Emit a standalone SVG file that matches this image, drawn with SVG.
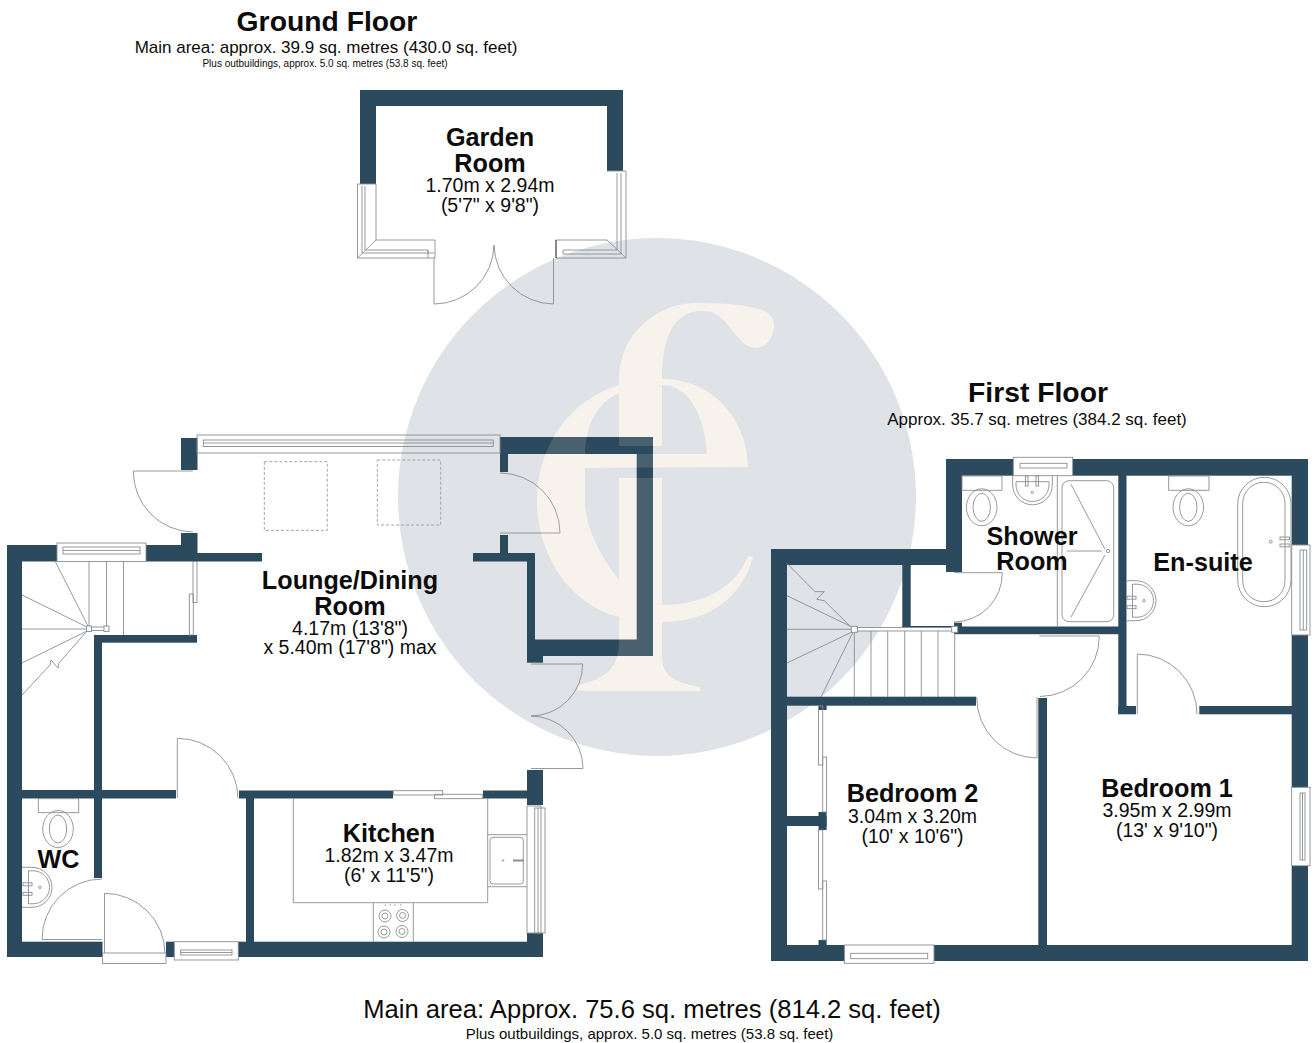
<svg xmlns="http://www.w3.org/2000/svg" width="1314" height="1043" viewBox="0 0 1314 1043">
<style>
.w{fill:#2c4a5e}
.l{fill:none;stroke:#8a8e91;stroke-width:.9}
.lw{fill:#fff;stroke:#8a8e91;stroke-width:.9}
.d{fill:none;stroke:#a0a4a7;stroke-width:1;stroke-dasharray:3 2}
text{font-family:"Liberation Sans",Arial,sans-serif;fill:#0c0c0c;text-anchor:middle}
.h{font-size:28.3px;font-weight:700}
.r{font-size:25.2px;font-weight:700}
.m{font-size:19.5px}
.s{font-size:17px}
.t{font-size:10px}
</style>
<defs>
<g id="mono">
<path d="M619,446V375C621,350 632,330 655,315C668,307 680,303 697,303C720,303 745,304 762,310C770,313 774,319 774,325C774,338 766,348 755,348C745,348 738,337 728,325C720,315 712,311 702,311C688,311 678,318 672,328C665,340 662,358 662,378V446Z"/>
<path d="M619,478V640C619,665 610,678 578,685V691H700V687C672,682 662,675 662,655V478Z"/>
<path fill-rule="evenodd" d="M748,467C748,422 715,379 662,379C645,379 632,381 619,385C570,400 537,445 537,502C537,555 570,605 619,617C632,621 648,622 662,622C710,622 742,597 753,557L748,556C735,590 700,605 662,605C640,605 630,595 619,580C598,553 585,525 585,502V468ZM585,454H707C705,418 690,385 662,385C645,385 630,388 619,393C596,404 586,425 585,454Z"/>
</g>
<g id="wc">
<ellipse cx="0" cy="0" rx="15.3" ry="18.5"/>
<ellipse cx="0" cy="0" rx="8.7" ry="14"/>
</g>
<g id="basin">
<path d="M0,0H10A20,20 0 0 1 10,40H0"/>
<path d="M6.5,3.5H11A16.5,16.5 0 0 1 11,36.5H6.5Z"/>
<rect x="1" y="15.5" width="9" height="3"/>
<rect x="1" y="25" width="9" height="3"/>
<circle cx="18" cy="20" r="1.2"/>
</g>
</defs>

<g id="watermark">
<circle cx="657" cy="497" r="259" fill="#dfe2e6"/>
<use href="#mono" fill="#f7f4f0"/>
</g>

<g id="walls-ground" class="w">
<path id="garden-wall" d="M360,90H623V171H607V106H376V184H360Z"/>
<rect x="7" y="545" width="15" height="412"/>
<rect x="7" y="545" width="50" height="16.5"/>
<rect x="146" y="545" width="51" height="16.5"/>
<rect x="181" y="533" width="16.5" height="28"/>
<rect x="197" y="553" width="65" height="8.5"/>
<rect x="181" y="438" width="16.5" height="32"/>
<rect x="500" y="437" width="153" height="17"/>
<rect x="500" y="437" width="8" height="35"/>
<rect x="500" y="535" width="8" height="18"/>
<rect x="473" y="553" width="62" height="8.5"/>
<rect x="527" y="553" width="8" height="103"/>
<rect x="527" y="639.5" width="126" height="16.5"/>
<rect x="636.7" y="437" width="16.3" height="219"/>
<rect x="527" y="656" width="16" height="6.7"/>
<rect x="527" y="770" width="16" height="35"/>
<rect x="483" y="790.5" width="44" height="8"/>
<rect x="239" y="790.5" width="154" height="8"/>
<rect x="22" y="790" width="154" height="8.5"/>
<rect x="94" y="635" width="8" height="243"/>
<rect x="94" y="635" width="103" height="7.7"/>
<rect x="246" y="798" width="8" height="144"/>
<rect x="7" y="941.7" width="95.5" height="15.3"/>
<rect x="166" y="941.7" width="8.3" height="15.3"/>
<rect x="238" y="941.7" width="289" height="15.3"/>
<rect x="527" y="933" width="16" height="24"/>
</g>

<g id="walls-first" class="w">
<rect x="771" y="549" width="16" height="412"/>
<rect x="771" y="549" width="191" height="16"/>
<rect x="946" y="459" width="16" height="113"/>
<rect x="946" y="459" width="67.3" height="16.7"/>
<rect x="1072.7" y="459" width="235.3" height="16.7"/>
<rect x="1291.7" y="459" width="16.3" height="86"/>
<rect x="1291.7" y="635" width="16.3" height="152.3"/>
<rect x="1291.7" y="866" width="16.3" height="95"/>
<rect x="771" y="945" width="73.4" height="16"/>
<rect x="934" y="945" width="374" height="16"/>
<rect x="902.3" y="565" width="8.4" height="62"/>
<rect x="902.3" y="626" width="52" height="2"/>
<rect x="954" y="622.7" width="8" height="11.3"/>
<rect x="954" y="626.5" width="172" height="7.7"/>
<rect x="1118.3" y="475" width="8.2" height="239"/>
<rect x="1118.3" y="706" width="17.7" height="8.3"/>
<rect x="1199.3" y="706" width="92.7" height="8.3"/>
<rect x="787" y="696.7" width="189" height="9"/>
<rect x="1038.3" y="698" width="8.7" height="247"/>
<rect x="787" y="816" width="39.6" height="10"/>
<rect x="818.5" y="705" width="8.1" height="5"/>
<rect x="818.5" y="812" width="8.1" height="18"/>
<rect x="818.5" y="940" width="8.1" height="5"/>
</g>

<g id="garden-fittings" class="l">
<path d="M357.5,184H376V240H435V258H357.5ZM362,186V253H434M365,186V250H428V258M357.5,258L376,240M428,250V254"/>
<path d="M607,171H626V258H556V240H607M621,173V254H563M617,173V250H563V254M607,240L626,258"/>
<path d="M556,240V258" stroke="#333"/>
<path d="M434,258V304A60,60 0 0 0 494,245"/>
<path d="M553.5,258V304A60,60 0 0 1 494,245"/>
</g>

<g id="lounge-fittings" class="l">
<rect x="197" y="435" width="303" height="18"/>
<rect x="203.3" y="440" width="290" height="6.5"/>
<path d="M203.3,443H493.3"/>
<path d="M193,471H133.3A60.5,60.5 0 0 0 193,532"/>
<path d="M500,473A60,60 0 0 1 560,533H500"/>
<path d="M531,664H582.7A52,52 0 0 1 531,716A52.5,52.5 0 0 1 583,768.5H531"/>
<path d="M177.3,798V738.3A60.5,60.5 0 0 1 238,798"/>
<rect x="193" y="561.5" width="4" height="41"/>
<rect x="189.3" y="594" width="4" height="41"/>
<rect class="d" x="264.3" y="461.7" width="63" height="68.6"/>
<rect class="d" x="377.3" y="460" width="63.4" height="65"/>
</g>

<g id="ground-stairs" class="l">
<rect x="57" y="543" width="89" height="18.5"/>
<rect x="63" y="547" width="77" height="7"/>
<path d="M63,550.5H140"/>
<path d="M55,561L88,626M22,595L87,627M22,629H87M22,663L87,631M22,695L50,665L51,660L58,668L59,663L87,631"/>
<path d="M89,561.5V626M106.5,561.5V626M123.5,561.5V635"/>
<rect class="lw" x="91.5" y="627" width="13" height="3.5"/>
<rect class="lw" x="86.5" y="626" width="5" height="5.5"/>
<rect class="lw" x="104" y="626" width="5" height="5.5"/>
</g>

<g id="wc-room" class="l">
<rect x="38.3" y="798.7" width="40.4" height="14"/>
<use href="#wc" x="58" y="829"/>
<use href="#basin" x="22" y="867.3"/>
<path d="M102,879A60,60 0 0 0 42,939.5H102"/>
<path d="M104.5,953V893.3A60.5,60.5 0 0 1 165,953"/>
<rect x="102.5" y="953" width="63.5" height="10.5"/>
<rect x="174.3" y="941.7" width="64" height="18.3"/>
<rect x="180.7" y="950" width="51.3" height="5"/>
<path d="M180.7,952.5H232"/>
</g>

<g id="kitchen" class="l">
<path d="M293.3,798V902.7H487.7V798"/>
<path d="M487.7,834.7H527M487.7,886.7H527"/>
<rect x="490" y="837.3" width="33.3" height="46.7" rx="3"/>
<path d="M513,860.5H524" stroke-width="2"/>
<circle cx="503" cy="860.5" r="0.8"/>
<path d="M373.3,902.7V941.7M413.3,902.7V941.7"/>
<circle cx="385" cy="916" r="6"/><circle cx="385" cy="916" r="3"/>
<circle cx="402.5" cy="915.5" r="6"/><circle cx="402.5" cy="915.5" r="3"/>
<circle cx="384" cy="932" r="6"/><circle cx="384" cy="932" r="3"/>
<circle cx="402" cy="931.5" r="6"/><circle cx="402" cy="931.5" r="3"/>
<path d="M384.5,905h1.5M389.5,905h1.5M394,905h1.5M400,905h1.5"/>
<rect x="527" y="806" width="14" height="127"/>
<rect x="534.7" y="808" width="10.3" height="125"/>
<path d="M538,808V933"/>
<rect x="393.3" y="790.7" width="49.4" height="4.3"/>
<rect x="434.7" y="794.3" width="48" height="4.4"/>
</g>

<g id="shower-room" class="l">
<rect x="1013.3" y="457.3" width="59.4" height="18.4"/>
<rect x="1020" y="463.3" width="47" height="4.7"/>
<rect x="962" y="476" width="40" height="14.3"/>
<use href="#wc" x="981.7" y="507.3"/>
<path d="M1012.7,476V485A19.8,19.8 0 0 0 1052.3,485V476"/>
<path d="M1016,481.7H1049V485A16.5,16.5 0 0 1 1016,485Z"/>
<rect x="1025.5" y="476" width="2.5" height="10"/>
<rect x="1036" y="476" width="2.5" height="10"/>
<circle cx="1032.3" cy="492.3" r="1.2"/>
<path d="M1057.3,476V626.7"/>
<rect x="1062" y="480.7" width="51.7" height="141" rx="7"/>
<path d="M1071,484.3L1105,549.3M1105,555L1071,617M1066.7,551H1101.7"/>
<circle cx="1108" cy="551" r="1.7"/>
<path d="M954,572.7H1002.3A48.5,48.5 0 0 1 954,622"/>
</g>

<g id="en-suite" class="l">
<rect x="1168.7" y="476" width="40.3" height="14.3"/>
<use href="#wc" x="1188.3" y="507.3"/>
<rect x="1237.7" y="477.3" width="53.3" height="129.4" rx="26.6"/>
<rect x="1242.7" y="482.3" width="42.3" height="119.4" rx="21"/>
<rect x="1280" y="537" width="9.3" height="2.8"/>
<rect x="1280" y="544" width="9.3" height="2.8"/>
<circle cx="1270.7" cy="541.7" r="1.5"/>
<use href="#basin" x="1126" y="580.7"/>
<rect x="1291.7" y="545" width="18.3" height="90"/>
<rect x="1300" y="550" width="6.7" height="80"/>
<path d="M1303.3,550V630"/>
<path d="M1137.3,714V654A60,60 0 0 1 1197,714"/>
</g>

<g id="first-stairs" class="l">
<path d="M787,563.3L815,591.7L824.3,591.7L816.7,599.3L824.3,600.7L850,626M787,595.7L852,627M787,629.3H852M787,663L852,632M821,697L853,632"/>
<path d="M854.3,632V697M871,631V697M887.7,631V697M904.7,631V697M921.3,631V697M938,631V697M954.7,632V697"/>
<rect class="lw" x="857" y="627.5" width="95" height="3.5"/>
<rect class="lw" x="851.3" y="626.3" width="6" height="6"/>
<rect class="lw" x="951.7" y="626.3" width="6" height="6"/>
</g>

<g id="bedrooms" class="l">
<path d="M1039.3,636H1099.3A60,60 0 0 1 1040,696.5"/>
<path d="M976.7,697A60.5,60.5 0 0 0 1037,758V697"/>
<rect x="818.5" y="706" width="4.2" height="59"/>
<rect x="822.7" y="757" width="3.9" height="55"/>
<rect x="818.5" y="830" width="4.2" height="59"/>
<rect x="822.7" y="881" width="3.9" height="59"/>
<rect x="844.4" y="945" width="89.6" height="18.3"/>
<rect x="850.7" y="953.3" width="77" height="5.4"/>
<rect x="1291.6" y="787.3" width="18.4" height="78.4"/>
<rect x="1300" y="793" width="5" height="67"/>
<path d="M1302.5,793V860"/>
</g>

<g id="watermark-overlay" opacity="0.14"><use href="#mono" fill="#f7e8d8"/></g>

<g id="labels">
<text class="h" x="327" y="31">Ground Floor</text>
<text class="s" x="326" y="53">Main area: approx. 39.9 sq. metres (430.0 sq. feet)</text>
<text class="t" x="325" y="67">Plus outbuildings, approx. 5.0 sq. metres (53.8 sq. feet)</text>
<text class="r" x="490" y="146">Garden</text>
<text class="r" x="490" y="172">Room</text>
<text class="m" x="490" y="192">1.70m x 2.94m</text>
<text class="m" x="490" y="212">(5'7" x 9'8")</text>
<text class="r" x="350" y="589">Lounge/Dining</text>
<text class="r" x="350" y="615">Room</text>
<text class="m" x="350" y="635">4.17m (13'8")</text>
<text class="m" x="350" y="654">x 5.40m (17'8") max</text>
<text class="r" x="389" y="842">Kitchen</text>
<text class="m" x="389" y="862">1.82m x 3.47m</text>
<text class="m" x="389" y="882">(6' x 11'5")</text>
<text class="r" x="58.5" y="868">WC</text>
<text class="h" x="1038" y="402">First Floor</text>
<text class="s" x="1037" y="425">Approx. 35.7 sq. metres (384.2 sq. feet)</text>
<text class="r" x="1032" y="544.5">Shower</text>
<text class="r" x="1032" y="570">Room</text>
<text class="r" x="1203" y="571">En-suite</text>
<text class="r" x="912.5" y="802">Bedroom 2</text>
<text class="m" x="912.5" y="823">3.04m x 3.20m</text>
<text class="m" x="912.5" y="843">(10' x 10'6")</text>
<text class="r" x="1167" y="797">Bedroom 1</text>
<text class="m" x="1167" y="817">3.95m x 2.99m</text>
<text class="m" x="1167" y="837">(13' x 9'10")</text>
<text x="652" y="1018" font-size="25.6px">Main area: Approx. 75.6 sq. metres (814.2 sq. feet)</text>
<text x="649.5" y="1039" font-size="15px">Plus outbuildings, approx. 5.0 sq. metres (53.8 sq. feet)</text>
</g>
</svg>
